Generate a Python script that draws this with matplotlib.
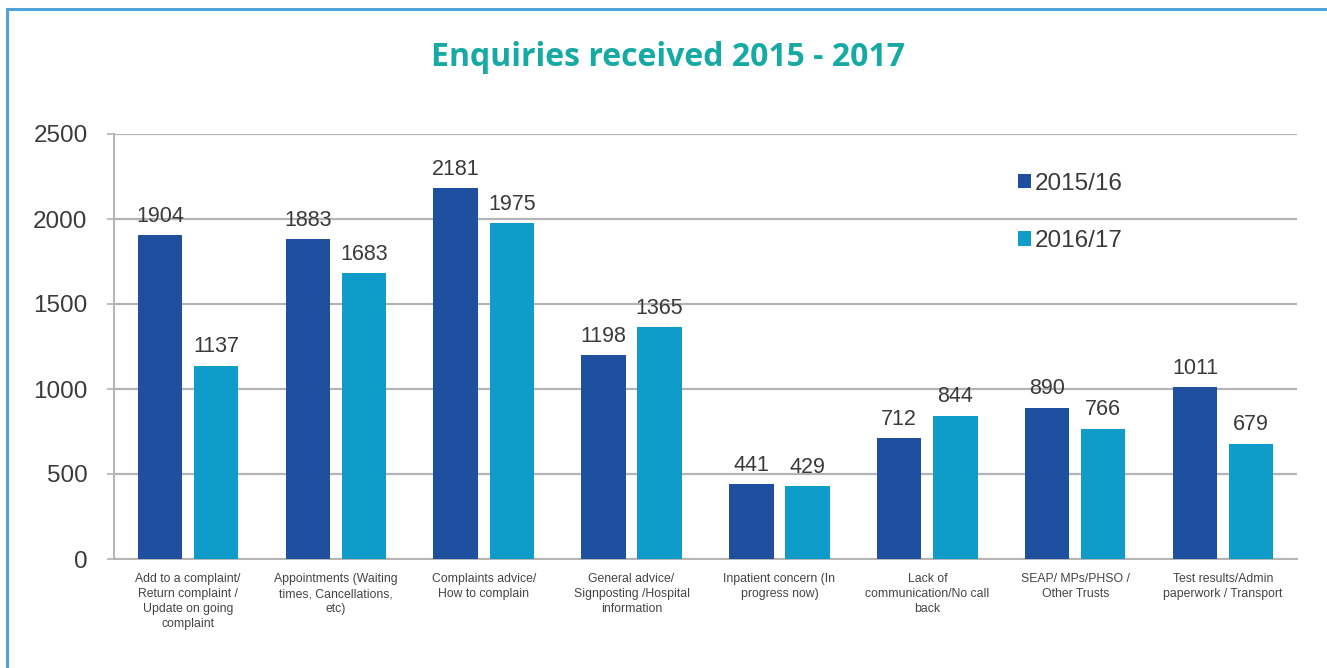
import numpy as np
import matplotlib
matplotlib.use("Agg")
import matplotlib.pyplot as plt
from matplotlib.lines import Line2D

# Enquiry categories and yearly counts
categories = [
    "Add to a complaint/\nReturn complaint /\nUpdate on going\ncomplaint",
    "Appointments (Waiting\ntimes, Cancellations,\netc)",
    "Complaints advice/\nHow to complain",
    "General advice/\nSignposting /Hospital\ninformation",
    "Inpatient concern (In\nprogress now)",
    "Lack of\ncommunication/No call\nback",
    "SEAP/ MPs/PHSO /\nOther Trusts",
    "Test results/Admin\npaperwork / Transport",
]
y2015 = [1904, 1883, 2181, 1198, 441, 712, 890, 1011]
y2016 = [1137, 1683, 1975, 1365, 429, 844, 766, 679]
series_labels = ["2015/16", "2016/17"]
yticks = [0, 500, 1000, 1500, 2000, 2500]

dark_blue = "#1f4f9f"
light_blue = "#0f9cc9"
grid_col = "#b4b4b4"
text_col = "#3a3a3a"

plt.rcParams["font.family"] = ["Liberation Sans", "DejaVu Sans"]

fig = plt.figure(figsize=(13.27, 6.68), dpi=100)

# outer panel border (left and top edges)
fig.add_artist(Line2D([7 / 1327, 7 / 1327], [0, 1 - 9 / 668], color="#4fa3d8", lw=2.2))
fig.add_artist(Line2D([7 / 1327, 1], [1 - 9 / 668, 1 - 9 / 668], color="#4fa3d8", lw=2.2))

fig.text(0.5035, 1 - 58 / 668, "Enquiries received 2015 - 2017", ha="center", va="center",
         fontsize=23, fontweight="bold", color="#17aaa5", family="Open Sans")

ax = fig.add_axes([114 / 1327, 1 - 559 / 668, (1297 - 114) / 1327, (559 - 134) / 668])

x = np.arange(len(categories))
w = 0.30
off = 0.19
b1 = ax.bar(x - off, y2015, w, color=dark_blue, label=series_labels[0], zorder=3)
b2 = ax.bar(x + off, y2016, w, color=light_blue, label=series_labels[1], zorder=3)

for bars, vals in ((b1, y2015), (b2, y2016)):
    for r, v in zip(bars, vals):
        ax.annotate(str(v), (r.get_x() + r.get_width() / 2, v), xytext=(0, 6),
                    textcoords="offset points", ha="center", va="bottom",
                    fontsize=15.5, color=text_col)

ax.set_xlim(-0.5, len(categories) - 0.5)
ax.set_ylim(0, 2500)
ax.set_yticks(yticks)
ax.set_yticklabels([str(t) for t in yticks], fontsize=17.5, color=text_col)
ax.set_xticks(x)
ax.set_xticklabels(categories, fontsize=8.8, color="#444444", linespacing=1.35)
ax.tick_params(axis="x", length=0, pad=10)
ax.tick_params(axis="y", length=5, width=1.2, color=grid_col, pad=14)

ax.yaxis.grid(True, color=grid_col, lw=1.6, zorder=0)
for s in ("top", "right"):
    ax.spines[s].set_visible(False)
for s in ("left", "bottom"):
    ax.spines[s].set_color(grid_col)
    ax.spines[s].set_linewidth(1.4)

leg = ax.legend(loc="upper left", frameon=False, fontsize=17.5,
                handlelength=0.55, handleheight=0.55, handletextpad=0.15, labelspacing=1.45,
                borderaxespad=0)
for t in leg.get_texts():
    t.set_color(text_col)
leg.set_bbox_to_anchor(((1008 - 114) / 1183, 1 - (163 - 134) / 425), transform=ax.transAxes)

fig.savefig("out.png", dpi=100)
